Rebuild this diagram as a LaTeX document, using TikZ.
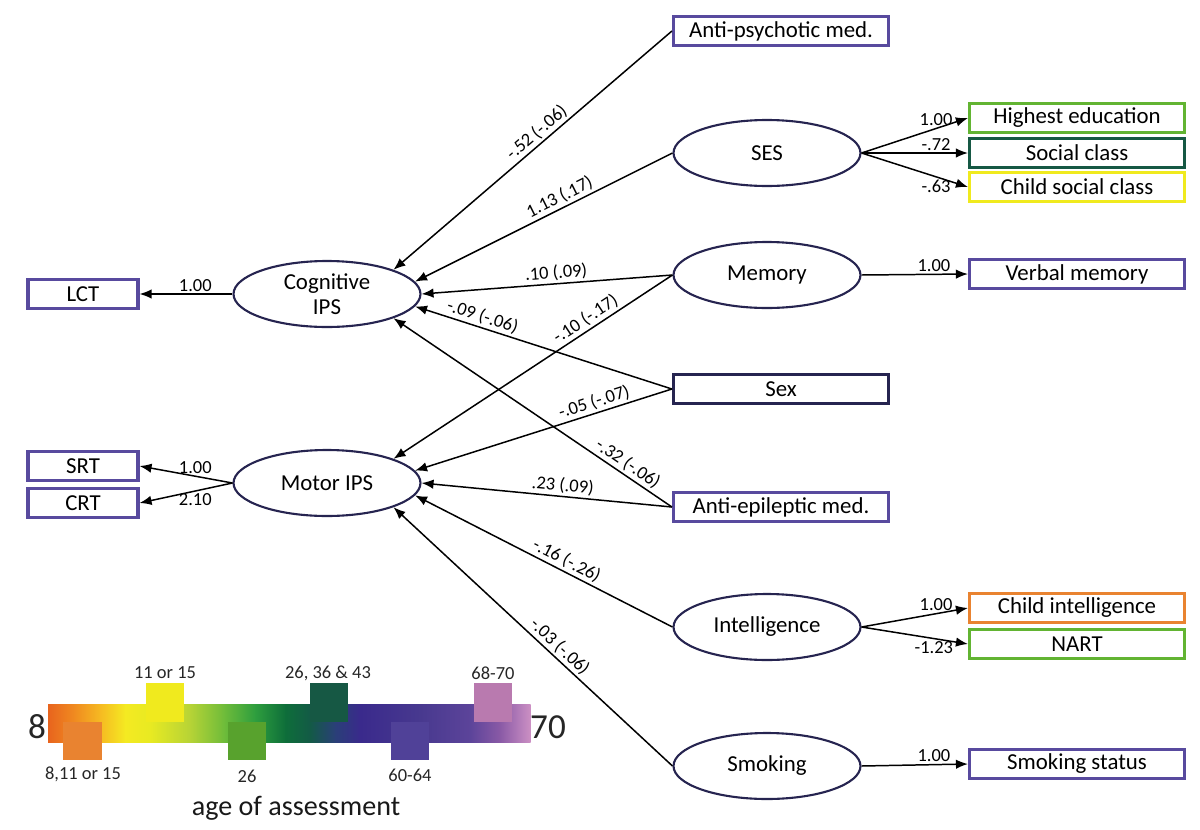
\documentclass[tikz,border=0pt]{standalone}
\usepackage{fontspec}
\setmainfont{Carlito}
\usetikzlibrary{shapes.geometric,arrows.meta}
\definecolor{navy}{RGB}{38,36,80}
\definecolor{boxblue}{RGB}{88,74,158}
\definecolor{edugreen}{RGB}{98,180,50}
\definecolor{darkgreen}{RGB}{22,88,68}
\definecolor{childyellow}{RGB}{240,234,30}
\definecolor{childorange}{RGB}{233,131,48}
\definecolor{agepink}{RGB}{185,122,175}
\definecolor{ageindigo}{RGB}{80,65,152}
%% gradient stops of the age bar
\definecolor{g1}{HTML}{E8641E}
\definecolor{g2}{HTML}{F08C20}
\definecolor{g3}{HTML}{F6BA22}
\definecolor{g4}{HTML}{F4EA22}
\definecolor{g5}{HTML}{E8EA22}
\definecolor{g6}{HTML}{B6D336}
\definecolor{g7}{HTML}{6CBB3A}
\definecolor{g8}{HTML}{2E9E3E}
\definecolor{g9}{HTML}{0E6E3A}
\definecolor{g10}{HTML}{135A46}
\definecolor{g11}{HTML}{2A3F78}
\definecolor{g12}{HTML}{3A2A8C}
\definecolor{g13}{HTML}{48398F}
\definecolor{g14}{HTML}{5C449A}
\definecolor{g15}{HTML}{8A5AA6}
\definecolor{g16}{HTML}{CC90C4}

\begin{document}
\begin{tikzpicture}[x=0.02cm,y=-0.02cm,
  latent/.style={ellipse,draw=navy,line width=1.2pt,minimum width=3.74cm,minimum height=1.32cm,
    inner sep=1pt,align=center,font=\fontsize{13}{14.5}\selectfont},
  obs/.style={rectangle,draw=#1,line width=1.8pt,minimum width=4.3cm,minimum height=0.58cm,
    inner sep=1pt,font=\fontsize{13}{14.5}\selectfont},
  obsshort/.style={obs=#1,minimum width=2.2cm},
  regr/.style={-{Latex[length=2.4mm,width=1.9mm]},line width=0.85pt},
  coef/.style={font=\fontsize{10.5}{11}\selectfont,inner sep=1.2pt},
  agelab/.style={font=\fontsize{10.5}{11}\selectfont,text=black!85,inner sep=0pt},
  agebig/.style={font=\fontsize{20}{22}\selectfont,text=black!85,inner sep=0pt},
  agetitle/.style={font=\fontsize{16}{18}\selectfont,text=black!90,inner sep=0pt}]
\useasboundingbox (0,0) rectangle (1200,829);

%%Latent and observed variables
\node[obs=boxblue] (antipsy) at (781,31) {Anti-psychotic med.};
\node[latent] (ses) at (767,153) {SES};
\node[obs=edugreen] (hiedu) at (1077,118) {Highest education};
\node[obs=darkgreen] (socclass) at (1077,153) {Social class};
\node[obs=childyellow] (chsoc) at (1077,187) {Child social class};
\node[latent] (memory) at (767,275) {Memory};
\node[obs=boxblue] (verbal) at (1077,274) {Verbal memory};
\node[latent] (cogips) at (327,294) {Cognitive\\IPS};
\node[obsshort=boxblue] (lct) at (83,294) {LCT};
\node[obs=navy] (sex) at (781,389) {Sex};
\node[latent] (motips) at (327,483) {Motor IPS};
\node[obsshort=boxblue] (srt) at (83,466) {SRT};
\node[obsshort=boxblue] (crt) at (83,503) {CRT};
\node[obs=boxblue] (antiepi) at (781,507) {Anti-epileptic med.};
\node[latent] (intel) at (767,627) {Intelligence};
\node[obs=childorange] (chint) at (1077,608) {Child intelligence};
\node[obs=edugreen] (nart) at (1077,644) {NART};
\node[latent] (smoking) at (767,766) {Smoking};
\node[obs=boxblue] (smokstat) at (1077,764) {Smoking status};

%%Paths to Cognitive IPS
\draw[regr] (antipsy.west) -- node[coef,sloped,above,pos=0.46] {-.52 (-.06)} (cogips.20);
\draw[regr] (ses.west) -- node[coef,sloped,above,pos=0.42] {1.13 (.17)} (cogips.8);
\draw[regr] (memory.west) -- node[coef,sloped,above,pos=0.46] {.10 (.09)} (cogips.0);
\draw[regr] (sex.west) -- node[coef,sloped,above,pos=0.75] {-.09 (-.06)} (cogips.-8);
\draw[regr] (antiepi.west) -- node[coef,sloped,above,pos=0.18] {-.32 (-.06)} (cogips.-20);

%%Paths to Motor IPS
\draw[regr] (memory.west) -- node[coef,sloped,above,pos=0.29] {-.10 (-.17)} (motips.20);
\draw[regr] (sex.west) -- node[coef,sloped,above,pos=0.29] {-.05 (-.07)} (motips.8);
\draw[regr] (antiepi.west) -- node[coef,sloped,above,pos=0.44] {.23 (.09)} (motips.0);
\draw[regr] (intel.west) -- node[coef,sloped,above,pos=0.43] {-.16 (-.26)} (motips.-8);
\draw[regr] (smoking.west) -- node[coef,sloped,above,pos=0.43] {-.03 (-.06)} (motips.-20);

%%Loadings
\draw[regr] (cogips.west) -- node[coef,above,pos=0.4] {1.00} (lct.east);
\draw[regr] (motips.west) -- node[coef,above,pos=0.4] {1.00} (srt.east);
\draw[regr] (motips.west) -- node[coef,below,pos=0.4] {2.10} (crt.east);
\draw[regr] (ses.east) -- node[coef,above,pos=0.7] {1.00} (hiedu.west);
\draw[regr] (ses.east) -- node[coef,above,pos=0.7] {-.72} (socclass.west);
\draw[regr] (ses.east) -- node[coef,below,pos=0.7] {-.63} (chsoc.west);
\draw[regr] (memory.east) -- node[coef,above,pos=0.68] {1.00} (verbal.west);
\draw[regr] (intel.east) -- node[coef,above,pos=0.7] {1.00} (chint.west);
\draw[regr] (intel.east) -- node[coef,below,pos=0.68] {-1.23} (nart.west);
\draw[regr] (smoking.east) -- node[coef,above,pos=0.68] {1.00} (smokstat.west);

%%Legend
\foreach \xa/\ca/\xb/\cb in {48/g1/75/g2, 75/g2/100/g3, 100/g3/125/g4, 125/g4/150/g5,
    150/g5/190/g6, 190/g6/225/g7, 225/g7/255/g8, 255/g8/285/g9, 285/g9/310/g10,
    310/g10/335/g11, 335/g11/360/g12, 360/g12/420/g13, 420/g13/470/g14,
    470/g14/500/g15, 500/g15/530/g16}
  \shade[left color=\ca,right color=\cb] (\xa,704) rectangle (\xb+0.6,742);
\fill[childorange] (63,722) rectangle (102,760);
\fill[childyellow] (146,683) rectangle (184,722);
\fill[edugreen!90!black] (228,722) rectangle (266,760);
\fill[darkgreen] (310,683) rectangle (348,722);
\fill[ageindigo] (391,722) rectangle (429,760);
\fill[agepink] (474,683) rectangle (512,722);
\node[agelab] (age1) at (83,774) {8,11 or 15};
\node[agelab] (age2) at (165,673) {11 or 15};
\node[agelab] (age3) at (247,776) {26};
\node[agelab] (age4) at (328,673) {26, 36 \& 43};
\node[agelab] (age5) at (410,775) {60-64};
\node[agelab] (age6) at (493,673) {68-70};
\node[agebig] (agemin) at (37,727) {8};
\node[agebig] (agemax) at (548,727) {70};
\node[agetitle] (agetitle) at (296,808) {age of assessment};
\end{tikzpicture}
\end{document}
